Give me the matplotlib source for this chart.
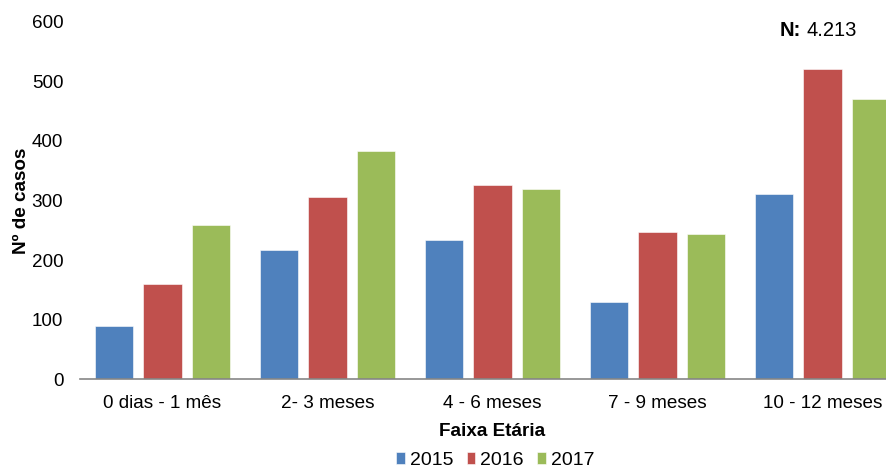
import numpy as np
import matplotlib
matplotlib.use("Agg")
import matplotlib.pyplot as plt

plt.rcParams['font.family'] = ['Liberation Sans', 'DejaVu Sans']

faixas = ['0 dias - 1 mês', '2- 3 meses', '4 - 6 meses', '7 - 9 meses', '10 - 12 meses']
anos = ['2015', '2016', '2017']
casos_2015 = [89, 217, 234, 129, 311]
casos_2016 = [160, 306, 326, 247, 520]
casos_2017 = [258, 383, 319, 244, 470]
cores = ['#4F81BD', '#C0504D', '#9BBB59']

fs = 13.6

fig = plt.figure(figsize=(8.86, 4.70), dpi=100)
ax = fig.add_axes([0.0903, 0.193, 0.931, 0.761])

x = np.arange(len(faixas))
passo = 0.294
largura = 0.232
for i, (serie, ano) in enumerate(zip([casos_2015, casos_2016, casos_2017], anos)):
    ax.bar(x + (i - 1) * passo, serie, largura, color=cores[i], label=ano,
           edgecolor='white', linewidth=0.4)

ax.set_xlim(-0.5, len(faixas) - 0.5)
ax.set_ylim(0, 600)
ax.set_yticks(range(0, 601, 100))
ax.set_xticks(x)
ax.set_xticklabels(faixas)
ax.tick_params(axis='both', length=0, labelsize=fs)
ax.tick_params(axis='y', pad=12)
ax.tick_params(axis='x', pad=11)

for lado in ['top', 'right', 'left']:
    ax.spines[lado].set_visible(False)
ax.spines['bottom'].set_color('#868686')
ax.spines['bottom'].set_linewidth(1.2)

ax.set_ylabel('Nº de casos', fontsize=fs, fontweight='bold', labelpad=1)
ax.set_xlabel('Faixa Etária', fontsize=fs, fontweight='bold', labelpad=8)

fig.legend(loc='center', bbox_to_anchor=(0.559, 0.021), ncol=3, frameon=False,
           fontsize=14, borderpad=0, handlelength=0.45, handleheight=0.55,
           handletextpad=0.25, columnspacing=0.7)

fig.text(0.880, 0.936, 'N:', fontsize=14.5, fontweight='bold', va='center', ha='left')
fig.text(0.910, 0.936, '4.213', fontsize=14.5, va='center', ha='left')

fig.savefig('out.png', dpi=100)
